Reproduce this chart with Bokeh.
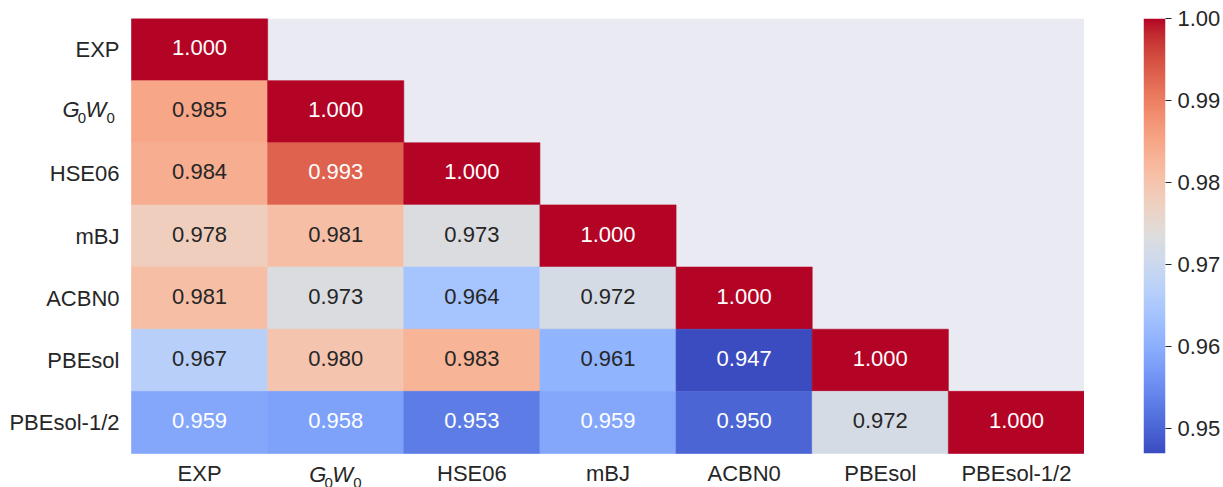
import numpy as np
from bokeh.plotting import figure
from bokeh.models import (ColumnDataSource, LinearColorMapper, Range1d,
                          FixedTicker, PrintfTickFormatter, Label)
from bokeh.layouts import row
from bokeh.transform import transform
from bokeh.core.properties import value
from bokeh.embed import file_html
from bokeh.resources import INLINE

# ---- data: lower triangle of the correlation matrix ----
methods = ["EXP", "G0W0", "HSE06", "mBJ", "ACBN0", "PBEsol", "PBEsol-1/2"]
corr_exp = [1.000]
corr_g0w0 = [0.985, 1.000]
corr_hse06 = [0.984, 0.993, 1.000]
corr_mbj = [0.978, 0.981, 0.973, 1.000]
corr_acbn0 = [0.981, 0.973, 0.964, 0.972, 1.000]
corr_pbesol = [0.967, 0.980, 0.983, 0.961, 0.947, 1.000]
corr_pbesol_half = [0.959, 0.958, 0.953, 0.959, 0.950, 0.972, 1.000]
corr_rows = [corr_exp, corr_g0w0, corr_hse06, corr_mbj, corr_acbn0, corr_pbesol, corr_pbesol_half]
colorbar_ticks = [0.95, 0.96, 0.97, 0.98, 0.99, 1.00]

FONT = "Liberation Sans"
TEXT_DARK = "#262626"

# heatmap cell area in pixels, plus the margins left of / below it that hold the labels
CELLS_W, CELLS_H = 953, 435
MARGIN_L, MARGIN_B, MARGIN_T = 131, 34, 18

# ---- coolwarm colour map (Moreland diverging map, 33 anchor colours) ----
_cw = [
    (59, 76, 192), (68, 90, 204), (77, 104, 215), (87, 117, 225), (98, 130, 234),
    (108, 142, 241), (119, 154, 247), (130, 165, 251), (141, 176, 254), (152, 185, 255),
    (163, 194, 255), (174, 201, 253), (184, 208, 249), (194, 213, 244), (204, 217, 238),
    (213, 219, 230), (221, 221, 221), (229, 216, 209), (236, 211, 197), (241, 204, 185),
    (245, 196, 173), (247, 187, 160), (247, 177, 148), (247, 166, 135), (244, 154, 123),
    (241, 141, 111), (236, 127, 99), (229, 112, 88), (222, 96, 77), (213, 80, 66),
    (203, 62, 56), (192, 40, 47), (180, 4, 38),
]
_cw = np.array(_cw, dtype=float)
_pos = np.linspace(0, 1, len(_cw))
_t = np.linspace(0, 1, 256)
_rgb = np.stack([np.interp(_t, _pos, _cw[:, k]) for k in range(3)], axis=1)
palette = ["#%02x%02x%02x" % tuple(int(round(c)) for c in rgb) for rgb in _rgb]

vmin = min(min(r) for r in corr_rows)
vmax = max(max(r) for r in corr_rows)
mapper = LinearColorMapper(palette=palette, low=vmin, high=vmax)


def cell_rgb(v):
    idx = int(np.floor((v - vmin) / (vmax - vmin) * len(palette)))
    idx = min(max(idx, 0), len(palette) - 1)
    return _rgb[idx] / 255.0


def text_color_for(v):
    c = cell_rgb(v)
    lin = np.where(c <= 0.03928, c / 12.92, ((c + 0.055) / 1.055) ** 2.4)
    lum = 0.2126 * lin[0] + 0.7152 * lin[1] + 0.0722 * lin[2]
    return TEXT_DARK if lum > 0.408 else "white"


n = len(methods)
# cell centres: column j -> j + 0.5, row i (top to bottom) -> n - i - 0.5
xs, ys, vals, labels, tcolors = [], [], [], [], []
for i, r in enumerate(corr_rows):
    for j, v in enumerate(r):
        xs.append(j + 0.5)
        ys.append(n - i - 0.5)
        vals.append(v)
        labels.append("%.3f" % v)
        tcolors.append(text_color_for(v))

src = ColumnDataSource(dict(x=xs, y=ys, v=vals, label=labels, tc=tcolors))

# ---- heatmap ----
# The frame spans the label margins too; axes are pinned to the cell-area edges.
px_x = CELLS_W / n
px_y = CELLS_H / n
p = figure(x_range=Range1d(-MARGIN_L / px_x, n), y_range=Range1d(-MARGIN_B / px_y, n),
           frame_width=MARGIN_L + CELLS_W, frame_height=MARGIN_B + CELLS_H,
           min_border_left=0, min_border_right=0, min_border_top=MARGIN_T, min_border_bottom=0,
           toolbar_location=None, output_backend="svg",
           background_fill_color="white", border_fill_color="white",
           outline_line_color=None)
p.grid.visible = False

p.quad(left=0, right=n, bottom=0, top=n, fill_color="#EAEAF2", line_color=None)
p.rect(x="x", y="y", width=1, height=1, source=src,
       fill_color=transform("v", mapper), line_color=transform("v", mapper), line_width=0.6)
p.text(x="x", y="y", text="label", source=src, text_color="tc",
       text_font=value(FONT), text_font_size="22px",
       text_align="center", text_baseline="middle", y_offset=-2)

centres = [k + 0.5 for k in range(n)]
p.xaxis.ticker = FixedTicker(ticks=centres)
p.yaxis.ticker = FixedTicker(ticks=centres)
p.xaxis.major_label_overrides = {c: ("" if m == "G0W0" else m) for c, m in zip(centres, methods)}
p.yaxis.major_label_overrides = {c: ("" if m == "G0W0" else m)
                                 for c, m in zip(centres, reversed(methods))}

for ax in (p.xaxis[0], p.yaxis[0]):
    ax.fixed_location = 0
    ax.axis_line_color = None
    ax.major_tick_line_color = None
    ax.minor_tick_line_color = None
    ax.major_tick_in = 0
    ax.major_tick_out = 0
    ax.minor_tick_in = 0
    ax.minor_tick_out = 0
    ax.major_label_text_font = FONT
    ax.major_label_text_font_size = "22px"
    ax.major_label_text_color = TEXT_DARK
p.xaxis.major_label_standoff = 7
p.yaxis.major_label_standoff = 12


# G0W0 written as italic G, W with upright subscript zeros
def g0w0_label(fig, x, y, dx, dy):
    pieces = [("G", 0.0, 0.0, "italic", "22px"),
              ("0", 15.3, -8.0, "normal", "15px"),
              ("W", 23.0, 0.0, "italic", "22px"),
              ("0", 44.0, -8.0, "normal", "15px")]
    for txt, ox, oy, style, size in pieces:
        fig.add_layout(Label(x=x, y=y, x_offset=dx + ox, y_offset=dy + oy, text=txt,
                             text_font=FONT, text_font_size=size, text_font_style=style,
                             text_color=TEXT_DARK, text_align="left",
                             text_baseline="middle"))


gi = methods.index("G0W0")
g0w0_label(p, 0, n - gi - 0.5, -69, 2.1)
g0w0_label(p, gi + 0.5, 0, -26.5, -21.1)

# ---- colour bar ----
cb = figure(x_range=Range1d(0, 1), y_range=Range1d(vmin, vmax),
            frame_width=22, frame_height=CELLS_H,
            min_border_left=59, min_border_right=58, min_border_top=MARGIN_T,
            min_border_bottom=MARGIN_B,
            y_axis_location="right", toolbar_location=None, output_backend="svg",
            outline_line_color=None, border_fill_color="white", background_fill_color="white")
cb.grid.visible = False
cb.xaxis.visible = False
grad = np.linspace(vmin, vmax, 256).reshape(-1, 1)
cb.image(image=[grad], x=0, y=vmin, dw=1, dh=vmax - vmin, color_mapper=mapper)

yax = cb.yaxis[0]
yax.ticker = FixedTicker(ticks=colorbar_ticks)
yax.formatter = PrintfTickFormatter(format="%.2f")
yax.axis_line_color = None
yax.minor_tick_line_color = None
yax.major_tick_in = 0
yax.major_tick_out = 6
yax.major_tick_line_color = TEXT_DARK
yax.major_tick_line_width = 1.2
yax.major_label_standoff = 6
yax.major_label_text_font = FONT
yax.major_label_text_font_size = "22px"
yax.major_label_text_color = TEXT_DARK

layout = row(p, cb)
open("out.html", "w").write(file_html(layout, INLINE))
